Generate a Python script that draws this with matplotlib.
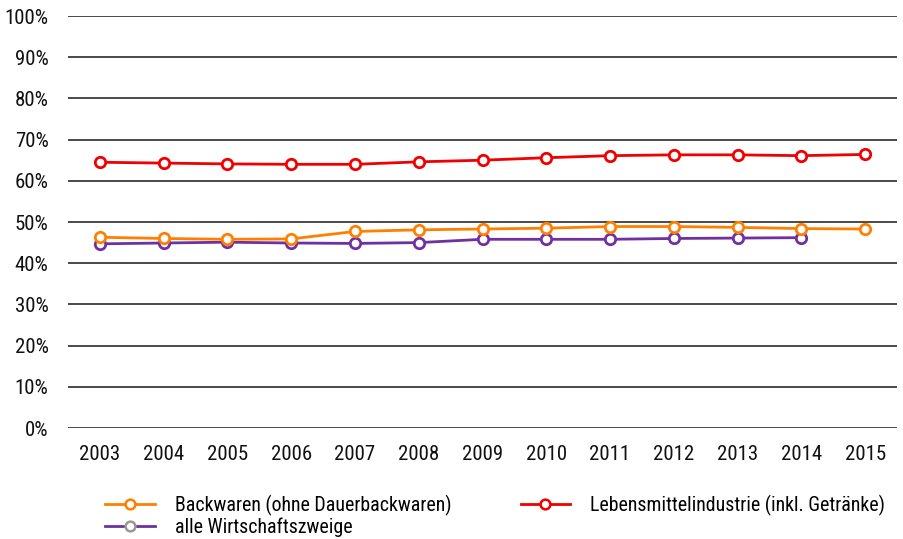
import matplotlib
matplotlib.use('Agg')
import matplotlib.pyplot as plt
from matplotlib.lines import Line2D

plt.rcParams['font.family'] = ['Roboto Condensed', 'Archivo Narrow', 'DejaVu Sans']

# Daten
jahre = list(range(2003, 2016))
backwaren = [46.3, 46.0, 45.8, 45.9, 47.7, 48.1, 48.3, 48.5, 48.9, 48.9, 48.7, 48.4, 48.3]
lebensmittel = [64.5, 64.3, 64.1, 64.0, 64.0, 64.6, 65.0, 65.6, 66.1, 66.3, 66.3, 66.1, 66.4]
jahre_alle = list(range(2003, 2015))
alle = [44.7, 44.9, 45.1, 44.9, 44.8, 45.0, 45.8, 45.8, 45.8, 46.0, 46.1, 46.2]
y_ticks = list(range(0, 101, 10))

ORANGE = '#FF8000'
ROT = '#F00000'
LILA = '#7030A0'
GRAU = '#999999'

fig = plt.figure(figsize=(9.04, 5.39), dpi=100)
ax = fig.add_axes([68 / 904, 1 - 428 / 539, (897 - 68) / 904, 412 / 539])

for v in y_ticks:
    ax.axhline(v, color='#2a2a2a', lw=1.2, zorder=1)

mk = dict(marker='o', markersize=7.5, markerfacecolor='white', markeredgewidth=2, lw=2, zorder=3)
ax.plot(jahre_alle, alle, color=LILA, markeredgecolor=LILA, **mk)
ax.plot(jahre, backwaren, color=ORANGE, markeredgecolor=ORANGE, **mk)
ax.plot(jahre, lebensmittel, color=ROT, markeredgecolor=ROT, **mk)

ax.set_xlim(2002.5, 2015.5)
ax.set_ylim(0, 100)
ax.set_xticks(jahre)
ax.set_xticklabels([str(j) for j in jahre])
ax.set_yticks(y_ticks)
ax.set_yticklabels([f'{v}%' for v in y_ticks])
ax.tick_params(length=0, labelsize=15, colors='#111111')
ax.tick_params(axis='x', pad=12)
ax.tick_params(axis='y', pad=14)
for s in ax.spines.values():
    s.set_visible(False)

lm = dict(marker='o', markersize=7, markerfacecolor='white', markeredgewidth=1.8, lw=2)
h_back = Line2D([], [], color=ORANGE, markeredgecolor=ORANGE, **lm)
h_leb = Line2D([], [], color=ROT, markeredgecolor=ROT, **lm)
h_alle = Line2D([], [], color=LILA, markeredgecolor=GRAU, **lm)

fig.legend([h_back, h_alle, h_leb],
           ['Backwaren (ohne Dauerbackwaren)', 'alle Wirtschaftszweige',
            'Lebensmittelindustrie (inkl. Getränke)'],
           ncol=2, loc='lower left', bbox_to_anchor=(105 / 904, 2 / 539),
           frameon=False, fontsize=14.3, handlelength=2.5, handletextpad=1.0,
           columnspacing=3.5, labelspacing=0.1, borderpad=0, borderaxespad=0)

fig.savefig('out.png', dpi=100)
